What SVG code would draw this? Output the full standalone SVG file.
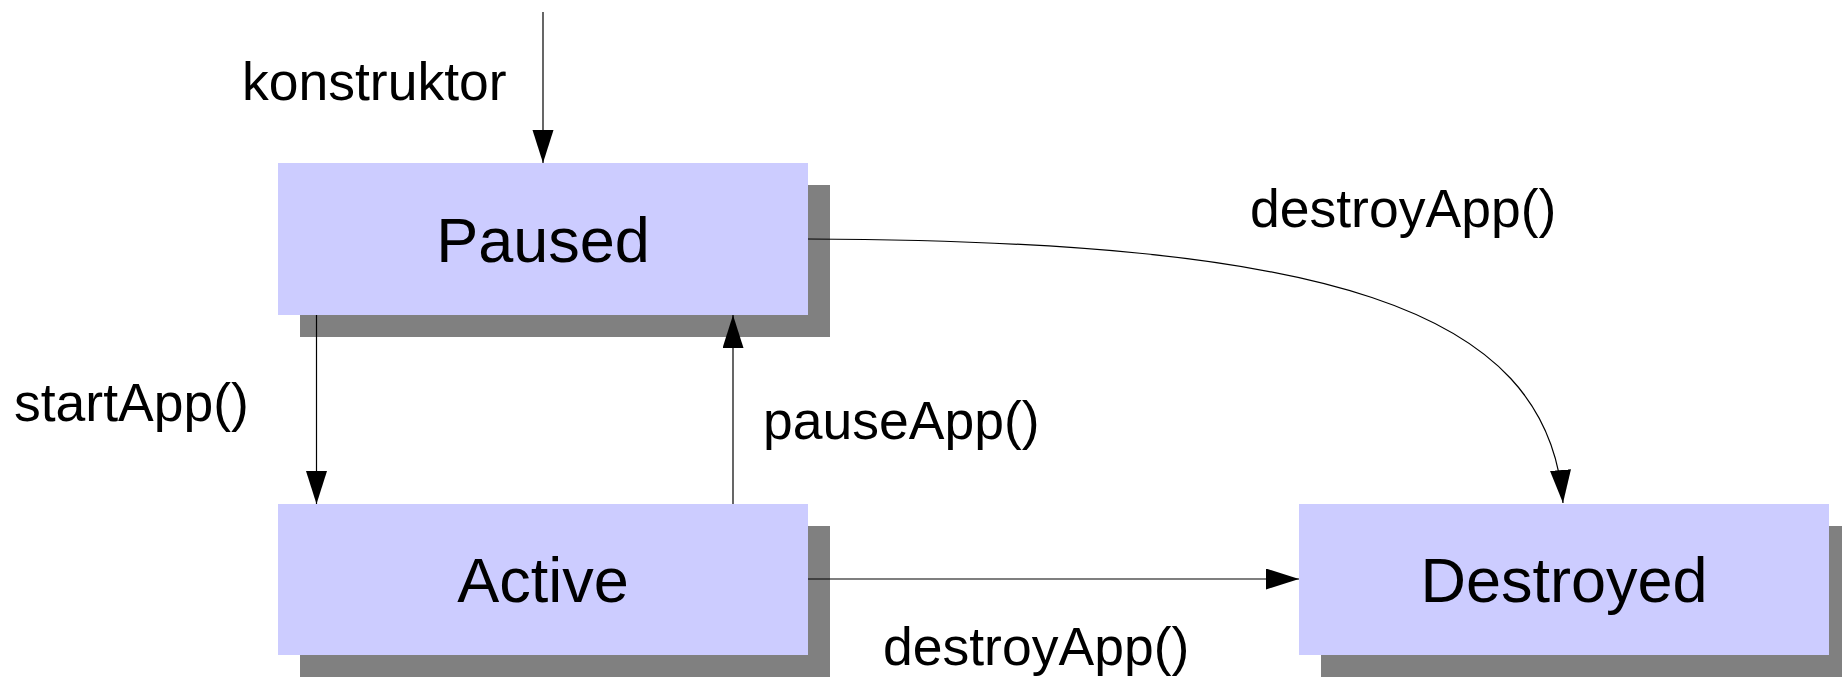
<svg xmlns="http://www.w3.org/2000/svg" width="1842" height="677" viewBox="0 0 1842 677">
  <style>
    .shadow { fill: #808080; }
    .box { fill: #ccccff; }
    .state { font-family: "Liberation Sans", Arial, sans-serif; font-size: 63px; fill: #000; text-anchor: middle; }
    .label { font-family: "Liberation Sans", Arial, sans-serif; font-size: 53.5px; fill: #000; }
    .edge { fill: none; stroke: #000; stroke-width: 1.2; }
  </style>
  <defs>
    <marker id="arrow" markerUnits="userSpaceOnUse" markerWidth="34" markerHeight="22" refX="33" refY="10.5" orient="auto">
      <path d="M0,0 L33,10.5 L0,21 Z" fill="#000"/>
    </marker>
  </defs>

  <rect width="1842" height="677" fill="#ffffff"/>

  <!-- states -->
  <g id="paused">
    <rect class="shadow" x="300" y="185" width="530" height="152"/>
    <rect class="box" x="278" y="163" width="530" height="152"/>
    <text class="state" x="543" y="261.5">Paused</text>
  </g>
  <g id="active">
    <rect class="shadow" x="300" y="526" width="530" height="152"/>
    <rect class="box" x="278" y="504" width="530" height="151"/>
    <text class="state" x="543" y="601.5">Active</text>
  </g>
  <g id="destroyed">
    <rect class="shadow" x="1321" y="526" width="530" height="152"/>
    <rect class="box" x="1299" y="504" width="530" height="151"/>
    <text class="state" x="1564" y="601.5">Destroyed</text>
  </g>

  <!-- transitions -->
  <g id="connectors">
    <line class="edge" x1="543" y1="12" x2="543" y2="163" marker-end="url(#arrow)"/>
    <line class="edge" x1="316.5" y1="315" x2="316.5" y2="504" marker-end="url(#arrow)"/>
    <line class="edge" x1="733" y1="504" x2="733" y2="315" marker-end="url(#arrow)"/>
    <line class="edge" x1="808" y1="579" x2="1299" y2="579" marker-end="url(#arrow)"/>
    <path class="edge" d="M808,239 C1320,241 1548,305 1563,503" marker-end="url(#arrow)"/>
  </g>

  <!-- transition labels -->
  <g id="labels">
    <text class="label" x="242" y="100">konstruktor</text>
    <text class="label" x="14" y="421">startApp()</text>
    <text class="label" x="763" y="439">pauseApp()</text>
    <text class="label" x="1250" y="227">destroyApp()</text>
    <text class="label" x="883" y="665">destroyApp()</text>
  </g>
</svg>
